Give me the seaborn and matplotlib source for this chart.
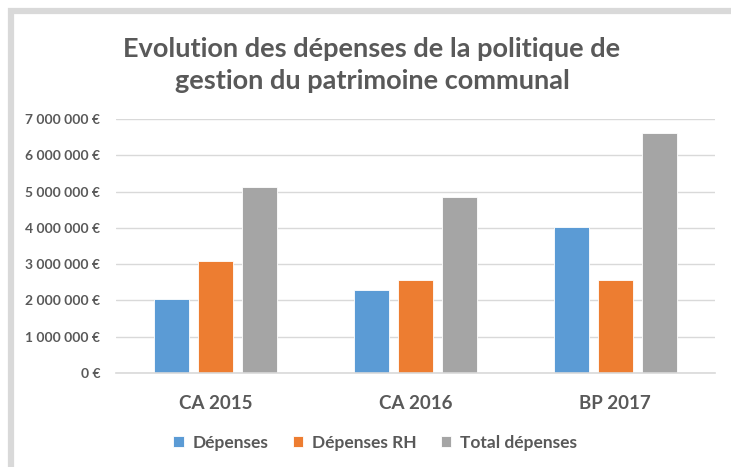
import pandas as pd
import matplotlib.pyplot as plt
import seaborn as sns
from matplotlib.ticker import FuncFormatter
from matplotlib.patches import Rectangle

# values
categories = ['CA 2015', 'CA 2016', 'BP 2017']
series = ['Dépenses', 'Dépenses RH', 'Total dépenses']
depenses = [2030000, 2290000, 4030000]
depenses_rh = [3080000, 2560000, 2550000]
total_depenses = [5120000, 4860000, 6610000]
colors = ['#5B9BD5', '#ED7D31', '#A5A5A5']

df = pd.DataFrame({
    'categorie': categories * 3,
    'serie': [series[0]] * 3 + [series[1]] * 3 + [series[2]] * 3,
    'montant': depenses + depenses_rh + total_depenses,
})

sns.set_theme(style='white')
plt.rcParams['font.family'] = ['Lato', 'DejaVu Sans']
plt.rcParams['font.weight'] = 'bold'
txt = '#595959'

W, H = 731, 467
fig = plt.figure(figsize=(W / 100, H / 100), dpi=100)
ax = fig.add_axes([116 / W, 1 - 373 / H, (715 - 116) / W, (373 - 119) / H])

sns.barplot(data=df, x='categorie', y='montant', hue='serie', order=categories,
            hue_order=series, palette=colors, saturation=1, width=0.66, gap=0.2,
            edgecolor='white', linewidth=0.6, ax=ax, legend=True)

ax.set_xlim(-0.5, 2.5)
ax.set_ylim(0, 7000000)
ax.set_yticks(range(0, 7000001, 1000000))
ax.yaxis.set_major_formatter(FuncFormatter(lambda v, p: f'{int(v):,} €'.replace(',', ' ')))
ax.grid(axis='y', color='#d9d9d9', linewidth=1.0)
ax.set_axisbelow(True)
for s in ['top', 'right', 'left']:
    ax.spines[s].set_visible(False)
ax.spines['bottom'].set_color('#d9d9d9')
ax.spines['bottom'].set_linewidth(1.2)
ax.tick_params(axis='y', length=0, pad=11.5, labelsize=10, labelcolor=txt)
ax.tick_params(axis='x', length=0, pad=16, labelsize=13.5, labelcolor=txt)
for lab in ax.get_xticklabels() + ax.get_yticklabels():
    lab.set_fontweight('bold')
ax.set_xlabel('')
ax.set_ylabel('')

handles, labels = ax.get_legend_handles_labels()
ax.get_legend().remove()
fig.legend(handles, labels, loc='center', bbox_to_anchor=(375 / W, 1 - 443 / H),
           ncol=3, frameon=False, handlelength=0.6, handleheight=0.6,
           handletextpad=0.5, columnspacing=1.4, labelcolor=txt,
           prop={'family': ['Lato', 'DejaVu Sans'], 'weight': 'bold', 'size': 12.5})

fig.text(372 / W, 1 - 65 / H, 'Evolution des dépenses de la politique de\ngestion du patrimoine communal',
         ha='center', va='center', fontsize=19.5, fontweight='bold', color=txt, linespacing=1.4)

# chart frame, cropped on the right and bottom like the reference
fig.patches.append(Rectangle((11 / W, -0.1), 1.2, 1.1 - 11 / H, transform=fig.transFigure,
                             fill=False, edgecolor='#d9d9d9', linewidth=4.5, zorder=0))

fig.savefig('out.png', dpi=100)
